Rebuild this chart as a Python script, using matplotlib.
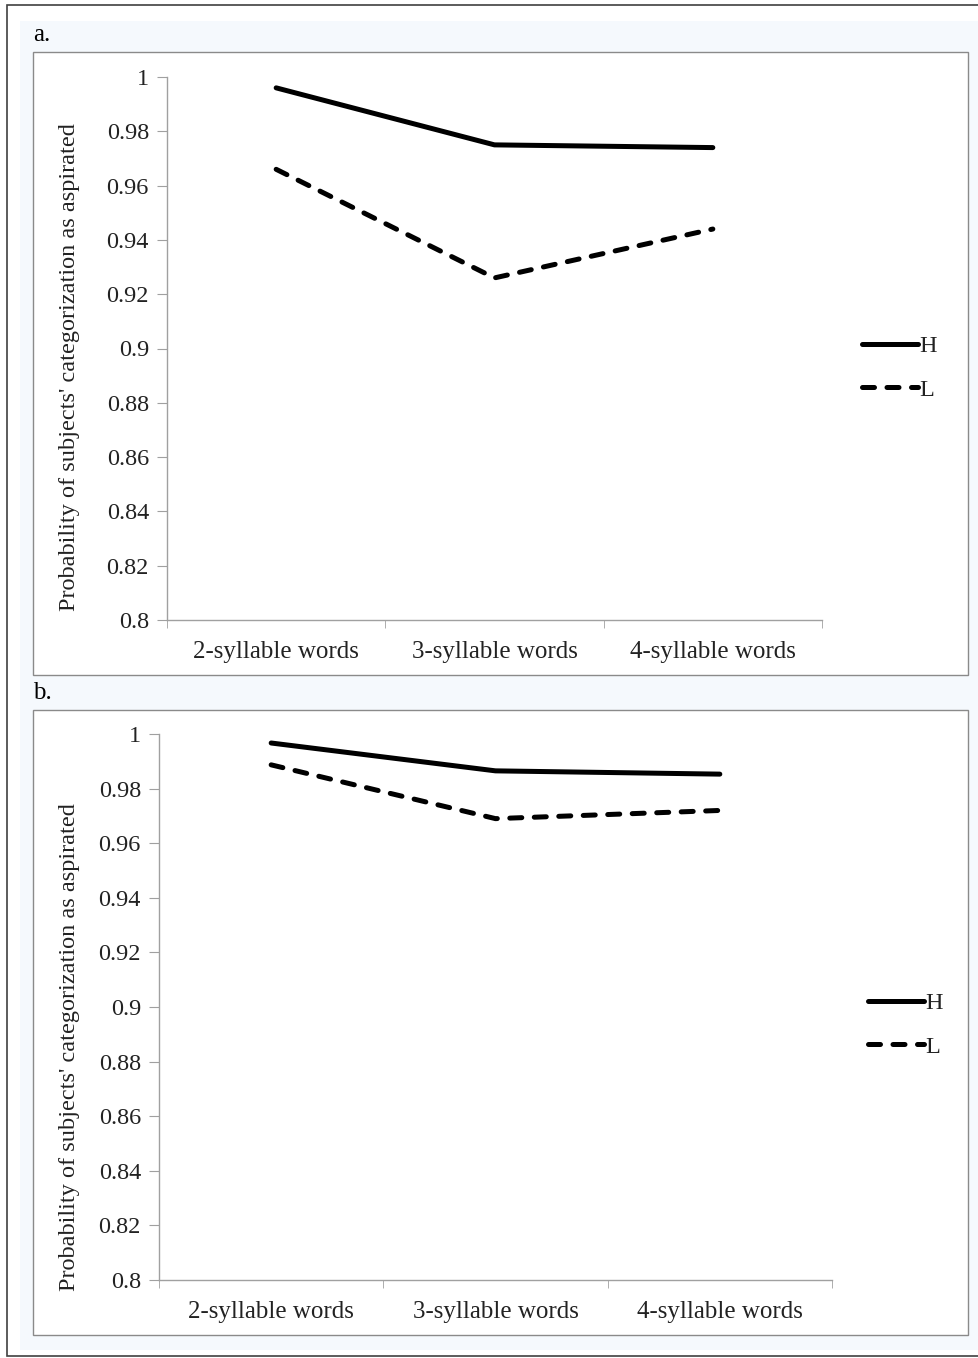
import numpy as np
import matplotlib.pyplot as plt
from matplotlib.patches import Rectangle

# data
categories = ['2-syllable words', '3-syllable words', '4-syllable words']
a_high = [0.996, 0.975, 0.974]
a_low = [0.966, 0.926, 0.944]
b_high = [0.9967, 0.9865, 0.9853]
b_low = [0.9887, 0.969, 0.972]
yticks = [0.8, 0.82, 0.84, 0.86, 0.88, 0.9, 0.92, 0.94, 0.96, 0.98, 1]
ytick_labels = ['0.8', '0.82', '0.84', '0.86', '0.88', '0.9', '0.92', '0.94', '0.96', '0.98', '1']

plt.rcParams['font.family'] = ['Liberation Serif', 'DejaVu Serif']

W, H = 979, 1358
fig = plt.figure(figsize=(W / 100, H / 100), dpi=100)


def px_rect(x0, y0, x1, y1, **kw):
    # rectangle in pixel coords (top-left origin) -> figure fraction
    return Rectangle((x0 / W, 1 - y1 / H), (x1 - x0) / W, (y1 - y0) / H,
                     transform=fig.transFigure, zorder=-10, **kw)


# frame, background and panel boxes
fig.patches.append(px_rect(7, 5, 990, 1356, facecolor='white', edgecolor='#404040', lw=1.2))
fig.patches.append(px_rect(20, 21, 990, 1350, facecolor='#f5f9fd', edgecolor='none'))
fig.patches.append(px_rect(33, 52, 968, 675, facecolor='white', edgecolor='#8a8a8a', lw=1.0))
fig.patches.append(px_rect(33, 710, 968, 1335, facecolor='white', edgecolor='#8a8a8a', lw=1.0))

fig.text(33 / W, 1 - 35 / H, 'a.', fontsize=18, va='center', ha='left')
fig.text(33 / W, 1 - 693 / H, 'b.', fontsize=18, va='center', ha='left')

FS = 17.5


def draw_panel(rect, high, low, ylab_y, legend_xy):
    ax = fig.add_axes(rect)
    ax.patch.set_alpha(0)
    x = np.arange(len(categories))
    ax.plot(x, high, color='black', lw=3.6, solid_capstyle='round', label='H')
    ax.plot(x, low, color='black', lw=3.6, linestyle=(0, (2.4, 2.5)),
            dash_capstyle='round', label='L')
    ax.set_xlim(-0.5, 2.5)
    ax.set_ylim(0.8, 1.0)
    ax.set_yticks(yticks)
    ax.set_yticklabels(ytick_labels, fontsize=FS, color='#222222')
    ax.set_xticks(x)
    ax.set_xticklabels(categories, fontsize=18, color='#222222')
    ax.set_xticks([-0.5, 0.5, 1.5, 2.5], minor=True)
    ax.tick_params(axis='x', which='major', length=0, pad=15)
    ax.tick_params(axis='x', which='minor', length=6, color='#a0a0a0', direction='out')
    ax.tick_params(axis='y', length=7, color='#a0a0a0', direction='out', pad=6)
    for s in ['top', 'right']:
        ax.spines[s].set_visible(False)
    for s in ['left', 'bottom']:
        ax.spines[s].set_color('#a0a0a0')
        ax.spines[s].set_linewidth(1.0)
    fig.text(70 / W, 1 - ylab_y / H,
             "Probability of subjects' categorization as aspirated",
             rotation=90, fontsize=FS, va='center', ha='center', color='#222222')
    leg = ax.legend(loc='center left', bbox_to_anchor=legend_xy,
                    bbox_transform=fig.transFigure, frameon=False, fontsize=FS,
                    handlelength=2.3, handletextpad=0.05, labelspacing=0.9,
                    borderaxespad=0, borderpad=0)
    for t in leg.get_texts():
        t.set_color('#222222')
    return ax


draw_panel([167 / W, 1 - 620 / H, (822 - 167) / W, (620 - 77) / H],
           a_high, a_low, 367, (862 / W, 1 - 368 / H))
draw_panel([159 / W, 1 - 1280 / H, (832 - 159) / W, (1280 - 734) / H],
           b_high, b_low, 1047, (868 / W, 1 - 1025 / H))

fig.savefig('out.png', dpi=100)
